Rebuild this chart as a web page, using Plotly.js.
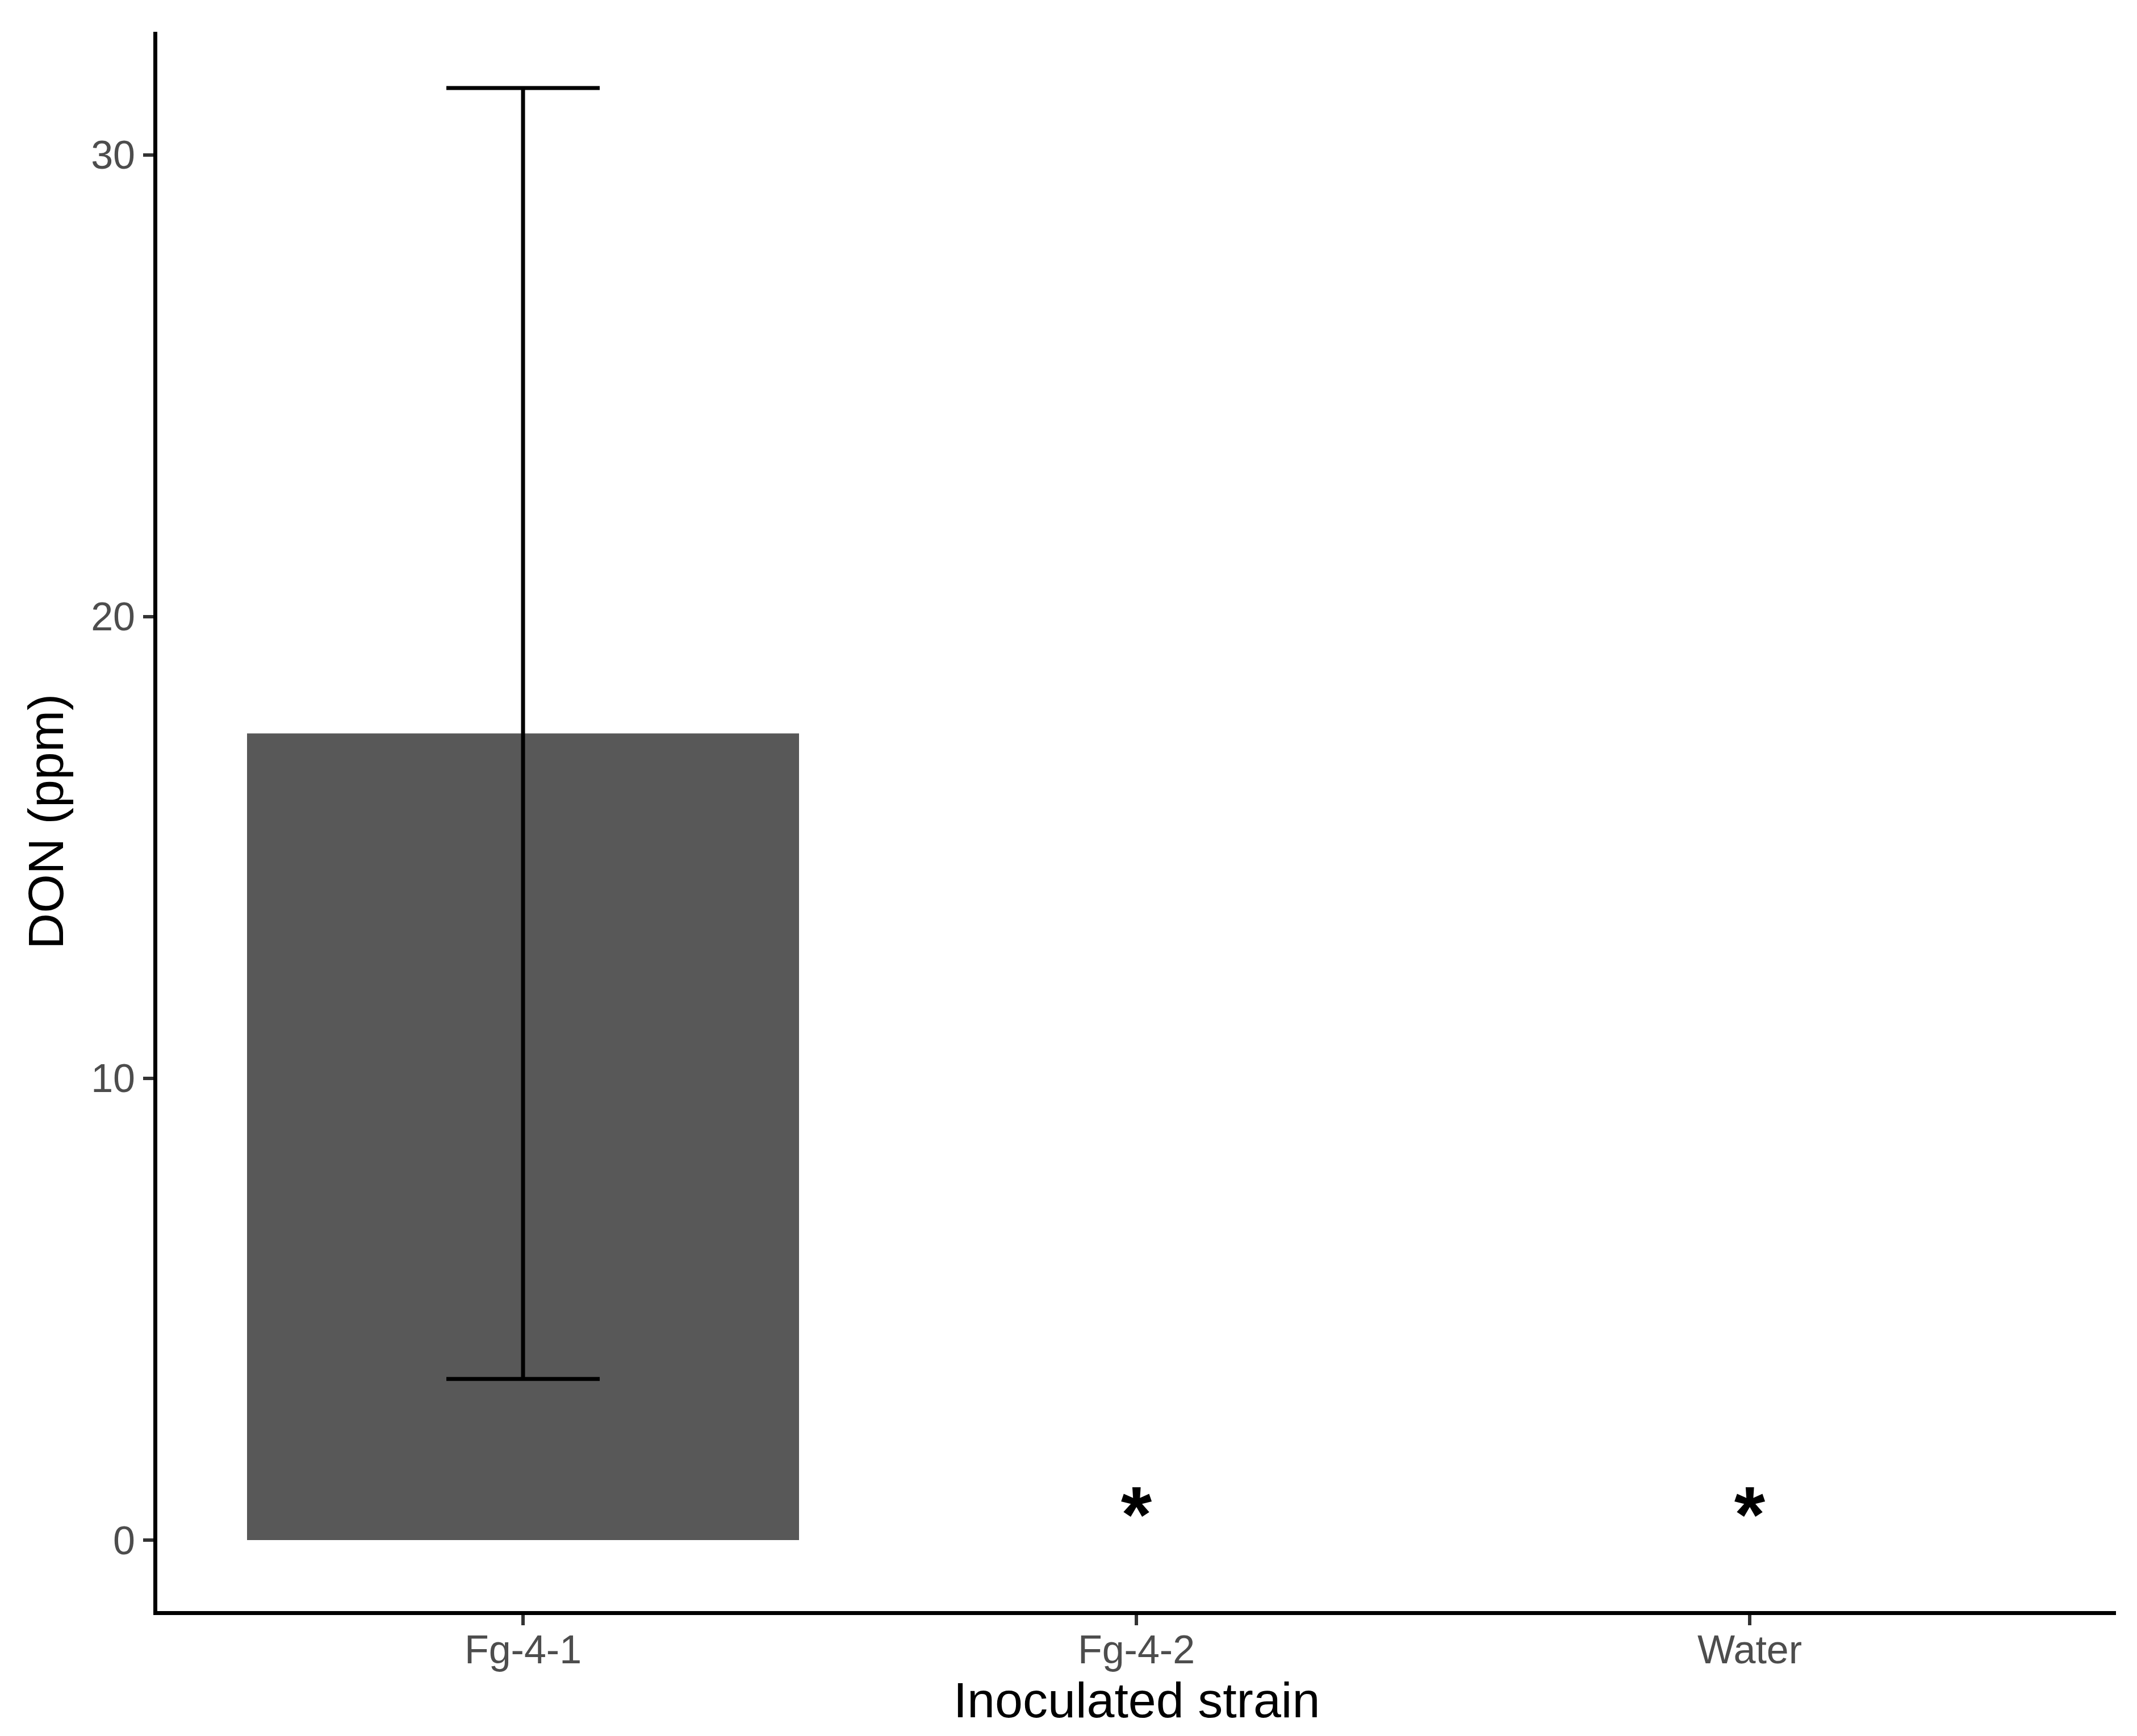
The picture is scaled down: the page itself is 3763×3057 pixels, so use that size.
<!DOCTYPE html>
<html>
<head>
<meta charset="utf-8">
<script src="https://cdn.plot.ly/plotly-3.0.1.min.js"></script>
<style>html,body{margin:0;padding:0;background:#ffffff;}</style>
</head>
<body>
<div id="chart" style="width:3763px;height:3057px;"></div>
<script>
// ---- data ----
const strains = ['Fg-4-1', 'Fg-4-2', 'Water'];
const donMean = [17.47, 0, 0];
const donErr = [13.98, null, null];
const sigStrains = ['Fg-4-2', 'Water'];
const sigLabels = ['*', '*'];
const sigY = [0.4, 0.4];
const yTickVals = [0, 10, 20, 30];
const yTickText = ['0', '10', '20', '30'];

const FONT = '"Liberation Sans", Arial, Helvetica, sans-serif';

const bars = {
  type: 'bar',
  x: strains,
  y: donMean,
  width: 0.9,
  marker: {color: '#585858', line: {width: 0}},
  hoverinfo: 'skip',
  showlegend: false
};

// error bars only where an error value exists
const errIdx = donErr.map((e, i) => (e === null ? -1 : i)).filter(i => i >= 0);
const errBars = {
  type: 'scatter',
  mode: 'markers',
  x: errIdx.map(i => strains[i]),
  y: errIdx.map(i => donMean[i]),
  marker: {size: 1, color: 'rgba(0,0,0,0)'},
  error_y: {type: 'data', array: errIdx.map(i => donErr[i]), visible: true, color: '#000000', thickness: 7, width: 135},
  hoverinfo: 'skip',
  showlegend: false
};

const stars = {
  type: 'scatter',
  mode: 'text',
  x: sigStrains,
  y: sigY,
  text: sigLabels.map(s => '<b>' + s + '</b>'),
  textposition: 'middle center',
  textfont: {family: FONT, size: 140, color: '#000000'},
  hoverinfo: 'skip',
  showlegend: false
};

const layout = {
  width: 3763,
  height: 3057,
  paper_bgcolor: '#ffffff',
  plot_bgcolor: '#ffffff',
  margin: {l: 277, r: 37, t: 56, b: 220, pad: 0},
  font: {family: FONT},
  showlegend: false,
  xaxis: {
    type: 'category',
    categoryorder: 'array',
    categoryarray: strains,
    range: [-0.5963, 2.5972],
    showgrid: false,
    zeroline: false,
    showline: true,
    linecolor: '#000000',
    linewidth: 7,
    ticks: 'outside',
    ticklen: 18,
    tickwidth: 6,
    tickcolor: '#333333',
    ticklabelstandoff: -17,
    tickfont: {family: FONT, size: 70, color: '#4D4D4D'},
    title: {text: 'Inoculated strain', font: {family: FONT, size: 88, color: '#000000'}, standoff: 18},
    fixedrange: true
  },
  yaxis: {
    range: [-1.537, 32.667],
    tickvals: yTickVals,
    ticktext: yTickText,
    showgrid: false,
    zeroline: false,
    showline: true,
    linecolor: '#000000',
    linewidth: 7,
    ticks: 'outside',
    ticklen: 18,
    tickwidth: 6,
    tickcolor: '#333333',
    tickfont: {family: FONT, size: 70, color: '#4D4D4D'},
    title: {text: 'DON (ppm)', font: {family: FONT, size: 88, color: '#000000'}, standoff: 22},
    fixedrange: true
  }
};

Plotly.newPlot('chart', [bars, errBars, stars], layout, {displayModeBar: false, staticPlot: true});
</script>
</body>
</html>
